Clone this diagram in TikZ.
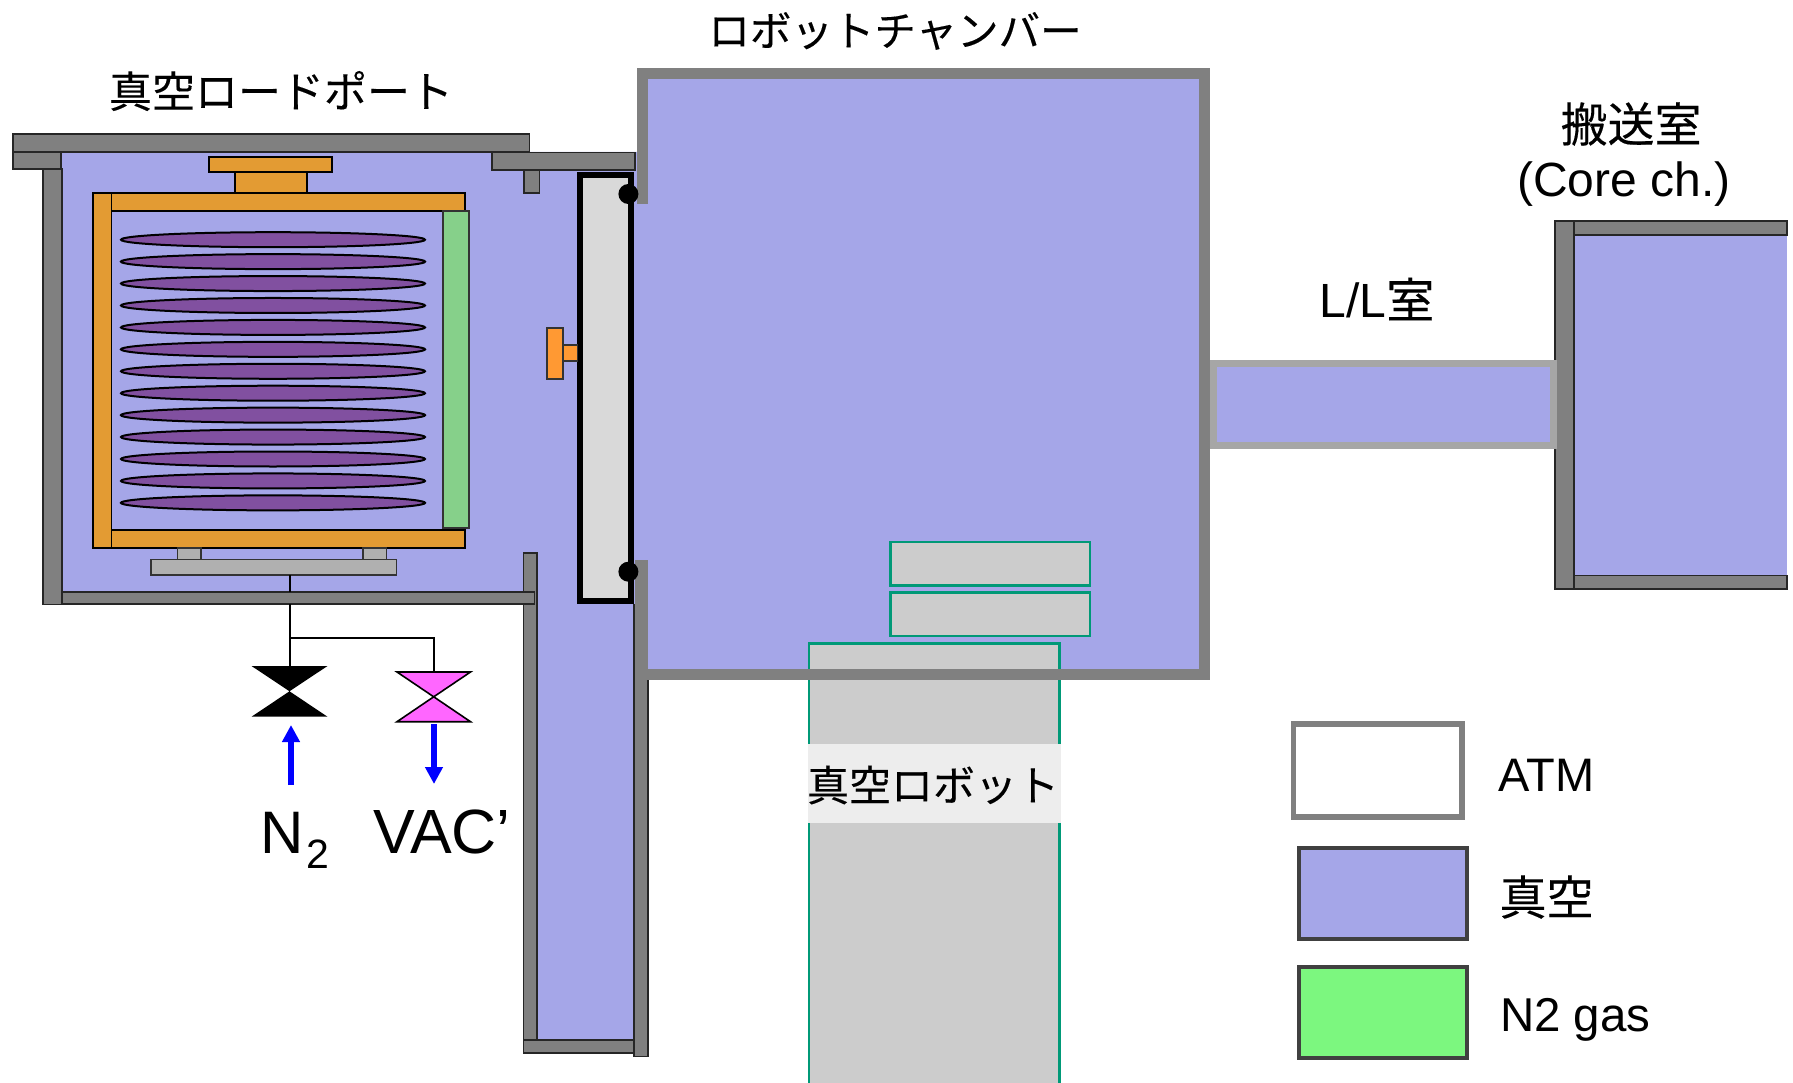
\documentclass[tikz,border=0pt]{standalone}
\usepackage{fontspec}
\setmainfont{Liberation Sans}
\newfontfamily\cjk[FakeBold=0.25]{Noto Sans CJK JP}
\usetikzlibrary{arrows.meta}
\definecolor{vac}{HTML}{A5A6E8}
\definecolor{wallc}{HTML}{808080}
\definecolor{llc}{HTML}{A6A6A6}
\definecolor{orangeb}{HTML}{E39B33}
\definecolor{orangeh}{HTML}{FF9933}
\definecolor{greenb}{HTML}{86D08A}
\definecolor{wafer}{HTML}{8150A0}
\definecolor{plate}{HTML}{B0B0B0}
\definecolor{teal2}{HTML}{009977}
\definecolor{robot}{HTML}{CCCCCC}
\definecolor{pinkv}{HTML}{FF66FF}
\definecolor{gasg}{HTML}{7CF77F}
\definecolor{bluea}{HTML}{0000FF}
\newcommand{\fs}[1]{\fontsize{#1}{#1}\selectfont}
\tikzset{
  wall/.style={fill=wallc,draw=black!85,line width=1.8},
  bar/.style={fill=orangeb,draw=black,line width=1.8},
  waf/.style={fill=wafer,draw=black,line width=2},
  gr/.style={fill=plate,draw=black!80,line width=1.6},
  robo/.style={fill=robot,draw=teal2,line width=2.8},
  pipe/.style={draw=black,line width=2},
  flow/.style={draw=bluea,line width=6,-{Triangle[length=17,width=17]}},
  lab/.style={inner sep=0,outer sep=0,text=black},
}
\begin{document}
\begin{tikzpicture}[x=1pt,y=-1pt]
\useasboundingbox (0,0) rectangle (1793,1083);
% vacuum regions
\fill[vac] (62,152) -- (640,152) -- (640,75) -- (1200,75) -- (1200,670) -- (640,670) -- (640,1042) -- (535,1042) -- (535,592) -- (62,592) -- cycle;
\fill[vac] (1574,230) rectangle (1787,580);
% wafer carrier
\draw[bar] (209,157) rectangle (332,172);
\draw[bar] (235,172) rectangle (307,194);
\draw[bar] (93,193) rectangle (465,211);
\draw[bar] (111.5,530) rectangle (465,548);
\draw[bar] (93,193) rectangle (111.5,548);
\draw[fill=greenb,draw=black!80,line width=1.6] (443,211) rectangle (469,528);
\foreach \i in {0,...,12}{
  \draw[waf] (273,239.7+21.93*\i) ellipse [x radius=152,y radius=7.5];
}
\draw[gr] (177.5,548) rectangle (201,560);
\draw[gr] (363,548) rectangle (386.5,560);
\draw[gr] (151,559.5) rectangle (396.5,575);
% robot
\draw[robo] (890.7,542) rectangle (1090,585.7);
\draw[robo] (890.7,592.3) rectangle (1090,636);
\draw[robo] (809,643.3) rectangle (1059.3,1095);
\fill[white!93!black] (808,744) rectangle (1060.5,822.7);
\node[lab,font=\cjk\fs{42},anchor=center] (robotlabel) at (933,785) {真空ロボット};
% robot chamber wall
\draw[wallc,line width=11,line cap=butt,line join=miter] (642.5,204) -- (642.5,73.7) -- (1204.5,73.7) -- (1204.5,674) -- (642.5,674);
\fill[wallc] (634.5,560) rectangle (648,1056.5);
\draw[black!85,line width=1.8] (634,604) -- (634,1056.5) -- (648,1056.5) -- (648,679.5);
% load port walls
\draw[wall] (12.6,134) rectangle (529.5,152);
\draw[wall] (12.6,152.5) rectangle (61,169);
\draw[wall] (43,169) rectangle (62,604.5);
\draw[wall] (491.6,152.5) rectangle (634.7,170);
\draw[wall] (524,170.5) rectangle (539.5,193);
\draw[wall] (523.5,553) rectangle (537,1053);
\draw[wall] (62,592) rectangle (534.5,604);
\draw[wall] (523.5,1040) rectangle (633.5,1053);
% door
\draw[fill=black!15,draw=black,line width=6] (580,175) rectangle (631,601);
\fill[black] (628.4,194) circle (10);
\fill[black] (628.4,571.7) circle (10);
\draw[fill=orangeh,draw=black!80,line width=1.6] (547,328) rectangle (563,379);
\draw[fill=orangeh,draw=black!80,line width=1.6] (563,344.7) rectangle (577.4,361);
% pipes
\coordinate (platebot) at (290,575);
\coordinate (tee) at (290,637.7);
\coordinate (bk) at (433.7,637.7);
\coordinate (vN) at (289.5,691.3);
\coordinate (vV) at (433.7,696.8);
\coordinate (vNt) at (290,666);
\coordinate (vVt) at (433.7,672);
\draw[pipe] (platebot) -- (290,592);
\draw[pipe] (290,604) -- (tee) -- (vNt);
\draw[pipe] (tee) -- (bk) -- (vVt);
\fill[black] (251.5,666) -- (327.5,666) -- (vN) -- (327.5,716.7) -- (251.5,716.7) -- (vN) -- cycle;
\draw[fill=pinkv,draw=black,line width=1.6] (397,672) -- (470.5,672) -- (vV) -- (470.5,721.7) -- (397,721.7) -- (vV) -- cycle;
\coordinate (a1s) at (291,785);
\coordinate (a1e) at (291,725);
\coordinate (a2s) at (434,724);
\coordinate (a2e) at (434,784);
\draw[flow] (a1s) -- (a1e);
\draw[flow] (a2s) -- (a2e);
% transfer chamber
\draw[wall] (1555,221) rectangle (1574,589);
\draw[wall] (1574,221) rectangle (1787,235);
\draw[wall] (1574,575.5) rectangle (1787,589);
% L/L
\draw[fill=vac,draw=llc,line width=7] (1213.5,363.5) rectangle (1553.5,445.5);
% legend
\draw[fill=white,draw=wallc,line width=5.5] (1293.5,724) rectangle (1462,817);
\draw[fill=vac,draw=black!75,line width=4] (1299,848) rectangle (1467,939);
\draw[fill=gasg,draw=black!75,line width=4] (1299,966.5) rectangle (1467,1057.5);
% texts
\node[lab,font=\cjk\fs{43},anchor=center] (t1) at (281,91) {真空ロードポート};
\node[lab,font=\cjk\fs{41.5},anchor=center] (t2) at (895,31) {ロボットチャンバー};
\node[lab,font=\cjk\fs{47},anchor=center] (t3) at (1631,124) {搬送室};
\node[lab,font=\fs{48},anchor=base] (t4) at (1624,197) {(Core ch.)};
\node[lab,anchor=center] (t5) at (1377,299) {\fs{48}L/L{\cjk 室}};
\node[lab,font=\fs{60},anchor=base west] (n2) at (260,853) {N};
\node[lab,font=\fs{41},anchor=base west] (n2s) at (306,868) {2};
\node[lab,font=\fs{62.5},anchor=base west] (vaclab) at (373,853) {VAC’};
\node[lab,font=\fs{47},anchor=base west] (atm) at (1498.5,791.7) {ATM};
\node[lab,font=\cjk\fs{47},anchor=center] (shinku) at (1546.5,897) {真空};
\node[lab,font=\fs{47.5},anchor=base west] (n2gas) at (1500,1031) {N2 gas};
\end{tikzpicture}
\end{document}
